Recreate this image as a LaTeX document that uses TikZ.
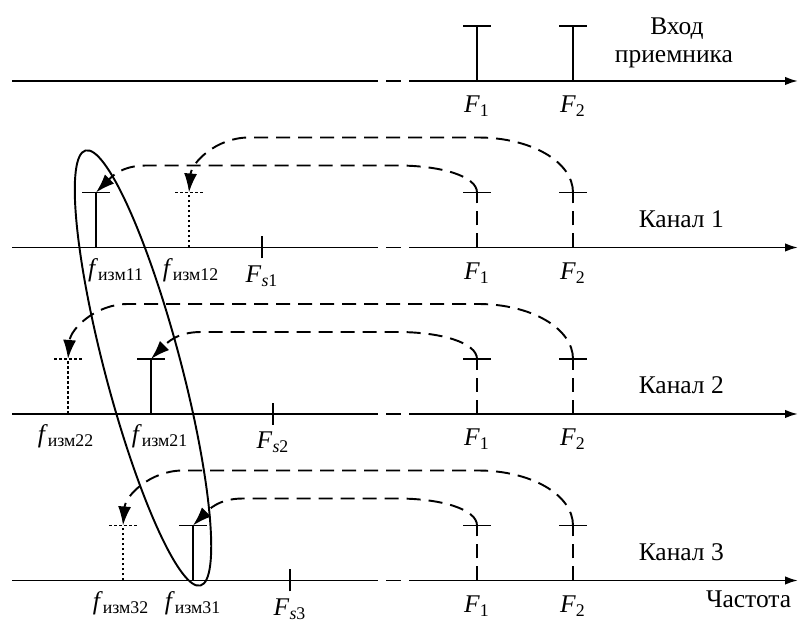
\documentclass[tikz,border=0pt]{standalone}
\usepackage{fontspec}
\setmainfont{Liberation Serif}
\usetikzlibrary{arrows.meta}

\begin{document}
\begin{tikzpicture}[line width=1.1pt,>={Latex[length=2.6mm,width=1.7mm]},
  font=\fontsize{14.5}{17}\selectfont,
  dsh/.style={dash pattern=on 0.28cm off 0.16cm},
  dts/.style={dash pattern=on 0.05cm off 0.05cm},
  perenos/.style={dsh,-{Latex[length=3.8mm,width=2.6mm]}}]
  \useasboundingbox (0,0) rectangle (16.04,12.44);
  % оси с разрывом: вход приемника и три канала
  \foreach \n/\y in {0/10.82,1/7.49,2/4.16,3/0.83}{
    \coordinate (a\n) at (0.24,\y); \coordinate (z\n) at (15.96,\y);
    \draw (a\n) -- ++(7.32,0); \draw ([xshift=7.48cm]a\n) -- ++(0.3,0);
    \draw[->] ([xshift=7.94cm]a\n) -- (z\n);
    \foreach \i/\x in {1/9.54,2/11.46}{
      \coordinate (F\i\n) at (\x,\y); \coordinate (c\i\n) at (\x,\y+1.1);
      \node[anchor=base] (lF\i\n) at (\x,\y-0.64) {\textit{F}\textsubscript{\i}};
    }
  }
  % (0) сигнал на входе
  \foreach \i in {1,2}
    \draw (F\i0) -- (c\i0) ([xshift=-0.28cm]c\i0) -- ([xshift=0.28cm]c\i0);
  \node[anchor=base] (vhod) at (13.54,11.74) {Вход};
  \node[anchor=base] (priem) at (13.48,11.18) {приемника};
  % (1)-(3) каналы: измеренные частоты и переносы
  \foreach \n/\y/\xs/\xd/\xf/\ls/\ld in {1/7.49/1.92/3.78/5.24/2.32/3.82,
      2/4.16/3.02/1.36/5.46/3.20/1.32, 3/0.83/3.86/2.46/5.80/3.86/2.42}{
    \node[anchor=base west] (kan\n) at (12.64,\y+0.4) {Канал \n};
    \foreach \i in {1,2}{
      \draw[dsh] (F\i\n) -- (c\i\n);
      \draw ([xshift=-0.28cm]c\i\n) -- ([xshift=0.28cm]c\i\n);
    }
    \coordinate (s\n) at (\xs,\y+1.1); \coordinate (d\n) at (\xd,\y+1.1);
    \draw (\xs,\y) -- (s\n) ([xshift=-0.28cm]s\n) -- ([xshift=0.28cm]s\n);
    \draw[dts] (\xd,\y) -- (d\n) ([xshift=-0.28cm]d\n) -- ([xshift=0.28cm]d\n);
    \draw (\xf,\y-0.22) -- (\xf,\y+0.22);
    \node[anchor=base] (lfs\n) at (\ls,\y-0.58) {\textit{f}\textsubscript{изм\n1}};
    \node[anchor=base] (lfd\n) at (\ld,\y-0.58) {\textit{f}\textsubscript{изм\n2}};
    \node[anchor=base] (lFs\n) at (\xf,\y-0.70) {\textit{F}\textsubscript{\textit{s}\n}};
    \draw[perenos] (c1\n) .. controls +(0,0.32) and +(0.9,0) .. ++(-1.6,0.54)
      -- (\xs+1.0,\y+1.64) .. controls +(-0.5,0) and +(0.3,0.3) .. (s\n);
    \draw[perenos] (c2\n) .. controls +(0,0.62) and +(1.05,0) .. ++(-1.9,1.1)
      -- (\xd+1.2,\y+2.2) .. controls +(-0.65,0) and +(0.05,0.6) .. (d\n);
  }
  % группа основных составляющих
  \coordinate (grp) at (2.86,5.08);
  \draw[rotate around={104.8:(grp)}] (grp) ellipse [x radius=4.5,y radius=0.76];
  \node[anchor=base east] (chast) at (15.96,0.28) {Частота};
\end{tikzpicture}
\end{document}
